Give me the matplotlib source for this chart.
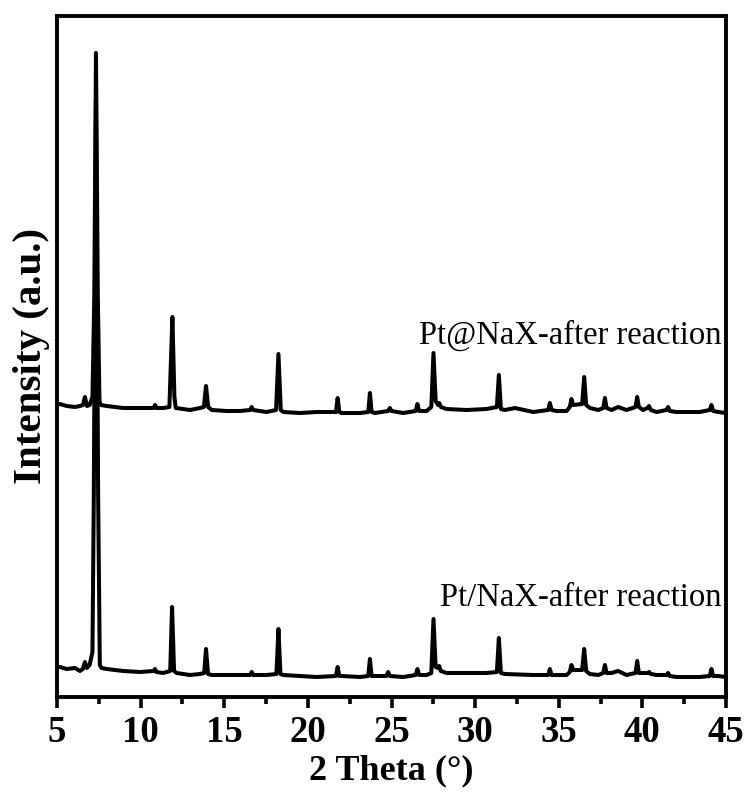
import matplotlib.pyplot as plt

plt.rcParams["font.family"] = ["Liberation Serif", "DejaVu Serif"]

# XRD patterns: (2 theta, intensity in arbitrary units)
top_pattern = [
    (5.00, 292), (5.18, 293), (5.58, 291), (6.08, 290), (6.37, 291), (6.55, 292),
    (6.67, 300), (6.79, 291), (6.95, 292), (7.12, 300), (7.23, 400), (7.33, 644),
    (7.44, 400), (7.54, 296), (7.62, 292), (7.97, 291), (8.96, 289), (9.96, 289),
    (10.78, 289), (10.86, 292), (10.94, 289), (11.35, 289), (11.72, 290), (11.80, 330),
    (11.90, 380), (12.02, 300), (12.10, 289), (12.95, 287), (13.55, 289), (13.78, 290),
    (13.91, 311), (14.04, 290), (14.25, 287), (15.14, 286), (15.94, 286), (16.55, 287),
    (16.64, 290), (16.73, 287), (17.53, 285), (18.10, 287), (18.24, 343), (18.38, 287),
    (18.53, 285), (19.52, 284), (20.52, 285), (21.68, 285), (21.78, 299), (21.88, 285),
    (22.02, 284), (23.11, 284), (23.61, 285), (23.71, 304), (23.81, 285), (24.01, 284),
    (24.80, 286), (24.90, 289), (25.00, 286), (25.70, 284), (26.45, 286), (26.55, 293),
    (26.65, 286), (27.10, 286), (27.38, 290), (27.51, 344), (27.64, 296), (27.78, 292),
    (27.85, 294), (27.95, 290), (28.29, 288), (29.49, 287), (30.68, 288), (31.30, 290),
    (31.42, 322), (31.54, 288), (31.78, 287), (32.38, 289), (33.47, 285), (34.37, 287),
    (34.47, 294), (34.57, 287), (34.87, 286), (35.47, 286), (35.66, 290), (35.76, 298),
    (35.86, 292), (36.40, 293), (36.52, 320), (36.64, 292), (36.86, 289), (37.36, 287),
    (37.66, 289), (37.76, 299), (37.86, 289), (38.16, 287), (38.55, 290), (39.05, 287),
    (39.59, 290), (39.69, 300), (39.79, 290), (40.04, 287), (40.30, 289), (40.40, 291),
    (40.50, 287), (40.85, 285), (41.44, 287), (41.54, 290), (41.64, 286), (42.04, 285),
    (43.43, 285), (44.03, 287), (44.13, 292), (44.23, 286), (44.53, 285), (45.00, 284),
]

bottom_pattern = [
    (5.00, 30), (5.18, 30), (5.58, 28), (6.08, 29), (6.37, 26), (6.55, 28),
    (6.67, 35), (6.79, 29), (6.95, 32), (7.12, 45), (7.20, 200), (7.33, 597),
    (7.46, 200), (7.56, 32), (7.66, 29), (7.97, 28), (8.96, 26), (9.96, 25),
    (10.78, 26), (10.86, 28), (10.94, 25), (11.35, 24), (11.77, 26), (11.88, 90),
    (12.00, 26), (12.15, 24), (12.95, 22), (13.55, 23), (13.80, 24), (13.91, 48),
    (14.03, 23), (14.25, 22), (15.14, 22), (16.55, 22), (16.64, 25), (16.73, 22),
    (17.53, 22), (18.12, 23), (18.24, 68), (18.36, 23), (18.53, 22), (19.52, 21),
    (20.52, 20), (21.68, 21), (21.78, 30), (21.88, 21), (22.02, 21), (23.11, 20),
    (23.61, 21), (23.71, 38), (23.81, 21), (24.01, 21), (24.70, 21), (24.80, 25),
    (24.90, 21), (25.70, 20), (26.45, 22), (26.55, 28), (26.65, 22), (27.10, 22),
    (27.38, 24), (27.51, 78), (27.64, 30), (27.78, 29), (27.85, 31), (27.95, 26),
    (28.29, 24), (29.49, 24), (30.68, 24), (31.30, 25), (31.42, 59), (31.54, 24),
    (31.78, 23), (33.47, 22), (34.37, 22), (34.47, 28), (34.57, 22), (34.87, 22),
    (35.47, 22), (35.66, 25), (35.76, 32), (35.86, 27), (36.40, 27), (36.52, 48),
    (36.64, 26), (36.86, 23), (37.36, 22), (37.66, 24), (37.76, 32), (37.86, 24),
    (38.16, 24), (38.55, 26), (39.05, 22), (39.59, 24), (39.69, 36), (39.79, 24),
    (40.04, 24), (40.30, 24), (40.40, 25), (40.50, 23), (40.85, 22), (41.44, 22),
    (41.54, 24), (41.64, 21), (42.04, 20), (43.43, 20), (44.03, 21), (44.13, 28),
    (44.23, 21), (44.53, 21), (45.00, 20),
]

labels = ["Pt@NaX-after reaction", "Pt/NaX-after reaction"]
x_ticks = [5, 10, 15, 20, 25, 30, 35, 40, 45]

top_x = [p[0] for p in top_pattern]
top_y = [p[1] for p in top_pattern]
bot_x = [p[0] for p in bottom_pattern]
bot_y = [p[1] for p in bottom_pattern]

fig = plt.figure(figsize=(7.48, 8.0), dpi=100)
ax = fig.add_axes([57 / 748, 1 - 697 / 800, 669 / 748, 681 / 800])

ax.plot(bot_x, bot_y, color="black", lw=2.9, solid_joinstyle="round")
ax.plot(top_x, top_y, color="black", lw=2.9, solid_joinstyle="round")

ax.text(44.75, 353, labels[0], ha="right", va="baseline", fontsize=23.5)
ax.text(44.75, 91, labels[1], ha="right", va="baseline", fontsize=23.5)

ax.set_xlim(5, 45)
ax.set_ylim(0, 681)
ax.set_xticks(x_ticks)
ax.set_xticks([t + 2.5 for t in x_ticks[:-1]], minor=True)
ax.set_yticks([])

for s in ax.spines.values():
    s.set_linewidth(2.8)

ax.tick_params(axis="x", which="major", direction="out", length=8, width=2.6,
               labelsize=26.5, pad=5)
ax.tick_params(axis="x", which="minor", direction="out", length=5, width=2.6)
for lab in ax.get_xticklabels():
    lab.set_fontweight("bold")

ax.set_xlabel("2 Theta (°)", fontsize=26, fontweight="bold", labelpad=3)
ax.set_ylabel("Intensity (a.u.)", fontsize=29.5, fontweight="bold", labelpad=5)

fig.savefig("out.png", dpi=100)
